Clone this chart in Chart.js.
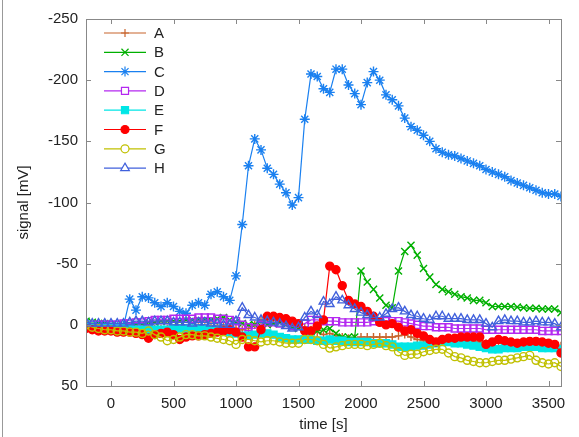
<!DOCTYPE html>
<html>
<head>
<meta charset="utf-8">
<script src="https://cdn.jsdelivr.net/npm/chart.js@4/dist/chart.umd.min.js"></script>
<style>
  html, body { margin: 0; padding: 0; background: #fff; }
  #wrap { width: 579px; height: 437px; position: relative; }
</style>
</head>
<body>
<div id="wrap"><canvas id="signalChart" width="579" height="437"></canvas></div>
<script>
// sampling times [s]
const times = [-200, -150, -100, -50, 0, 50, 100, 150, 200, 250, 300, 350, 400, 450, 500, 550, 600, 650, 700, 750,
  800, 850, 900, 950, 1000, 1050, 1100, 1150, 1200, 1250, 1300, 1350, 1400, 1450, 1500, 1550, 1600, 1650, 1700, 1750,
  1800, 1850, 1900, 1950, 2000, 2050, 2100, 2150, 2200, 2250, 2300, 2350, 2400, 2450, 2500, 2550, 2600, 2650, 2700, 2750,
  2800, 2850, 2900, 2950, 3000, 3050, 3100, 3150, 3200, 3250, 3300, 3350, 3400, 3450, 3500, 3550, 3600];

const seriesNames = ['A', 'B', 'C', 'D', 'E', 'F', 'G', 'H'];

// signal [mV], one value per time
const valuesA = [0, 1, 1, 1, 2, 2, 2, 2, 3, 3, 3, 3, 3, 3, 3, 3, 3, 2, 2, 2,
  1, 1, 1, 2, 3, 4, 3, 0, -4, -5, -5, -4, -4, -2, 0, 2, 4, 6, 8, 7,
  9, 10, 11, 11, 10, 10, 10, 10, 10, 10, 9, 8, 10, 12, 13, 14, 14, 13, 13, 13,
  13, 14, 14, 14, 15, 15, 15, 15, 15, 15, 15, 15, 15, 15, 16, 16, 17];
const valuesB = [-3, -2, -1, -1, 0, 0, 0, 0, -1, -1, -2, -2, -3, -3, -3, -3, -4, -4, -4, -4,
  -4, -5, -6, -4, -2, -1, 0, 0, 1, 0, -1, -2, 0, 2, 3, 4, 5, 5, 4, 3,
  7, 10, 10, 10, -44, -35, -29, -22, -16, -14, -44, -60, -65, -57, -46, -39, -33, -29, -27, -25,
  -23, -22, -20, -20, -18, -15, -15, -15, -15, -14.5, -14, -13.5, -13.5, -13, -13, -13, -10];
const valuesC = [1, 1, 1, 1, 1, 1, 1, -21, -12, -23, -22, -18, -15, -18, -15, -11, -9.5, -16, -18, -16,
  -25, -27, -23, -20, -40, -82, -130, -152, -143, -128, -123, -115, -108, -98, -104, -168, -205, -203, -193, -190,
  -209, -209, -196, -189, -180, -198, -207, -200, -188, -184, -179, -169, -162, -159, -155, -150, -144, -141, -139, -138,
  -136, -134, -132, -130, -127, -125, -123, -121, -118, -116, -114, -112, -110, -108, -107, -107, -105];
const valuesD = [0, 0, 0, 0, 0, 0, -1, -1, -2, -2, -3, -4, -4, -4, -5, -5, -5, -5, -6, -6,
  -6, -5, -5, -4, -3, 0, 2, 3, 0, -2, -2, -1, 0, 1, 1, -1, -4, -4, -3, -3,
  -3, -2, -2, -2, -2, -2, -3, -3, -3, -3, -3, -2, -1, 0, 1, 1, 2, 2, 2, 3,
  3, 3, 3, 3, 4, 4, 4, 4, 4, 4, 4, 4, 4, 5, 5, 5, 5];
const valuesE = [0, 1, 2, 2, 2, 3, 3, 3, 4, 4, 4, 4, 4, 4, 3, 3, 3, 3, 3, 3,
  4, 4, 5, 6, 7, 9, 9, 8, 7, 7, 8, 10, 11, 12, 12, 12, 12, 13, 13, 12,
  13, 13, 14, 14, 14, 14, 15, 15, 15, 16, 18, 18, 18, 17, 17, 16, 15, 14, 14, 15,
  15, 16, 17, 18, 19, 20, 20, 19, 19, 19, 18, 18, 18, 19, 19, 19, 20];
const valuesF = [3, 4, 5, 5, 5, 6, 6, 6, 7, 8, 11, 8, 7, 6, 8, 12, 10, 9, 9, 8,
  7, 6, 5, 4, 6, 10, 18, 18, 4, -7, -7, -6, -5, -3, -1, 5, 5, 1, -4, -48,
  -45, -32, -20, -17, -15, -11, -7, -2, 0, -1, 2, 5, 4, 7, 9, 12, 14, 12, 11, 11,
  10, 10, 10, 10, 16, 14, 12, 13, 14, 15, 14, 13.5, 13.5, 14, 15, 16, 23];
const valuesG = [0, 2, 3, 4, 4, 5, 5, 6, 6, 7, 5, 8, 10, 13, 12, 10, 8, 8, 9, 9,
  10, 11, 12, 13, 16, 12, 12, 13, 14, 13, 13, 14, 15, 15, 15, 12, 12, 13, 16, 19,
  18, 17, 16, 16, 16, 17, 16, 15, 17, 18, 22, 25, 24, 24, 22, 21, 20, 20, 23, 26,
  27, 29, 30, 31, 31, 30, 29, 29, 28, 27, 26, 25, 29, 31, 32, 31, 34];
const valuesH = [-2, -1, -1, -1, -1, -1, -1, -2, -3, -3, -2, -3, -3, -3, -2, -2, -2, -1, -2, -2,
  -1, -1, 0, 0, -3, -14, -8, -6, -4, -3, -2, -1, 1, 3, 2, -6, -11, -8, -19, -17,
  -23, -20, -16, -13, -10, -8, -6, -6, -9, -13, -14, -11, -8, -7, -5, -4, -7, -7, -5, -5,
  -5, -4, -4, -4, -1, 2, -3, -4, -3, -3, -2, -2, -3, -2, -2, -1, 2];

const xTicks = [0, 500, 1000, 1500, 2000, 2500, 3000, 3500];
const yTicks = [-250, -200, -150, -100, -50, 0, 50];

const seriesValues = [valuesA, valuesB, valuesC, valuesD, valuesE, valuesF, valuesG, valuesH];

// gnuplot-like look
const styles = [
  { color: '#c8642d', point: 'cross', radius: 4, fill: false },
  { color: '#00b000', point: 'crossRot', radius: 5, fill: false },
  { color: '#1a80f0', point: 'star', radius: 5, fill: false },
  { color: '#b428f0', point: 'rect', radius: 5, fill: false },
  { color: '#00e6e6', point: 'rect', radius: 5, fill: true },
  { color: '#ff0000', point: 'circle', radius: 4, fill: true },
  { color: '#c0c000', point: 'circle', radius: 4, fill: false },
  { color: '#4060dc', point: 'triangle', radius: 5, fill: false }
];

const FONT = 'Liberation Sans, Arial, sans-serif';
const FRAME = '#888888';

const datasets = seriesNames.map((name, i) => ({
  label: name,
  data: times.map((t, k) => ({ x: t, y: seriesValues[i][k] })),
  borderColor: styles[i].color,
  backgroundColor: styles[i].fill ? styles[i].color : 'rgba(255,255,255,0)',
  pointBorderColor: styles[i].color,
  pointStyle: styles[i].point,
  pointRadius: styles[i].radius,
  pointBorderWidth: 1.4,
  borderWidth: 1.2,
  tension: 0,
  order: seriesNames.length - i
}));

// frame + inward ticks on all four sides, legend inside top-left, thin page edge
const gnuplotFrame = {
  id: 'gnuplotFrame',
  afterDraw(chart) {
    const { ctx, chartArea: a, scales } = chart;
    ctx.save();
    ctx.strokeStyle = FRAME;
    ctx.lineWidth = 1;
    ctx.strokeRect(Math.round(a.left) + 0.5, Math.round(a.top) + 0.5, Math.round(a.right - a.left), Math.round(a.bottom - a.top));
    ctx.beginPath();
    xTicks.forEach(v => {
      const px = Math.round(scales.x.getPixelForValue(v)) + 0.5;
      ctx.moveTo(px, a.bottom); ctx.lineTo(px, a.bottom - 5);
      ctx.moveTo(px, a.top); ctx.lineTo(px, a.top + 5);
    });
    yTicks.forEach(v => {
      const py = Math.round(scales.y.getPixelForValue(v)) + 0.5;
      ctx.moveTo(a.left, py); ctx.lineTo(a.left + 5, py);
      ctx.moveTo(a.right, py); ctx.lineTo(a.right - 5, py);
    });
    ctx.stroke();

    // page edge line at left
    ctx.strokeStyle = '#999999';
    ctx.beginPath();
    ctx.moveTo(2.5, 0); ctx.lineTo(2.5, chart.height);
    ctx.stroke();

    // legend
    const x0 = a.left + 18, x1 = a.left + 60, xm = (x0 + x1) / 2, tx = a.left + 68;
    ctx.font = '15px ' + FONT;
    ctx.textBaseline = 'middle';
    ctx.textAlign = 'left';
    seriesNames.forEach((name, i) => {
      const y = a.top + 14 + i * 19.3;
      const s = styles[i];
      ctx.strokeStyle = s.color;
      ctx.lineWidth = 1.2;
      ctx.beginPath();
      ctx.moveTo(x0, y); ctx.lineTo(x1, y);
      ctx.stroke();
      ctx.fillStyle = s.fill ? s.color : '#ffffff';
      Chart.helpers.drawPoint(ctx, { pointStyle: s.point, radius: s.radius, borderWidth: 1.4, rotation: 0 }, xm, y);
      ctx.fillStyle = '#222222';
      ctx.fillText(name, tx, y + 1);
    });
    ctx.restore();
  }
};

new Chart(document.getElementById('signalChart'), {
  type: 'line',
  data: { datasets },
  options: {
    responsive: false,
    animation: false,
    layout: { padding: { top: 19, right: 18, left: 0, bottom: 0 } },
    plugins: { legend: { display: false }, tooltip: { enabled: false } },
    scales: {
      x: {
        type: 'linear', min: -200, max: 3600,
        afterBuildTicks: axis => { axis.ticks = xTicks.map(v => ({ value: v })); },
        afterFit: axis => { axis.height = 51; },
        grid: { display: false, drawTicks: false },
        border: { display: false },
        ticks: { color: '#222', font: { family: FONT, size: 15 }, padding: 9, maxRotation: 0, autoSkip: false, callback: v => String(v) },
        title: { display: true, text: 'time [s]', color: '#222', font: { family: FONT, size: 15 }, padding: { top: 0, bottom: 3 } }
      },
      y: {
        type: 'linear', min: -250, max: 50, reverse: true,
        afterBuildTicks: axis => { axis.ticks = yTicks.map(v => ({ value: v })); },
        afterFit: axis => { axis.width = 86; },
        grid: { display: false, drawTicks: false },
        border: { display: false },
        ticks: { color: '#222', font: { family: FONT, size: 15 }, padding: 8, autoSkip: false, callback: v => String(v) },
        title: { display: true, text: 'signal [mV]', color: '#222', font: { family: FONT, size: 15 }, padding: { top: 15, bottom: 0 } }
      }
    }
  },
  plugins: [gnuplotFrame]
});
</script>
</body>
</html>
